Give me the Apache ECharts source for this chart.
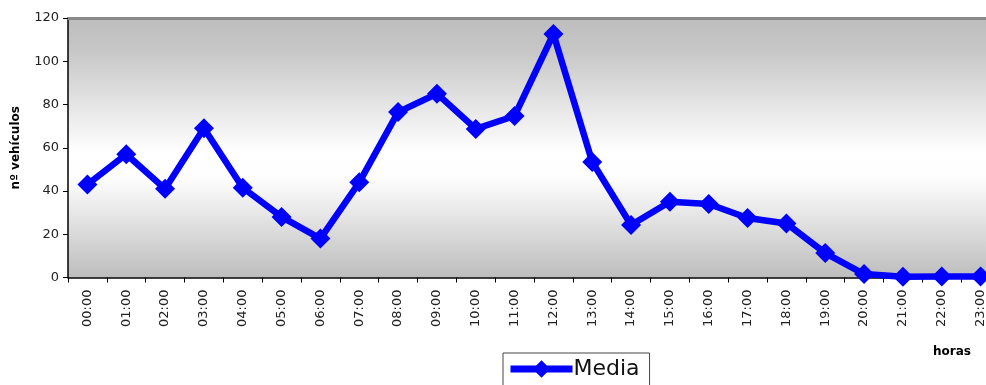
<!DOCTYPE html>
<html>
<head>
<meta charset="utf-8">
<script src="https://cdn.jsdelivr.net/npm/echarts@6/dist/echarts.min.js"></script>
<style>
  html, body { margin: 0; padding: 0; background: #ffffff; }
  #chart { width: 986px; height: 385px; }
</style>
</head>
<body>
<div id="chart"></div>
<script>
// Hourly average vehicle counts
const horas = ['00:00','01:00','02:00','03:00','04:00','05:00','06:00','07:00',
  '08:00','09:00','10:00','11:00','12:00','13:00','14:00','15:00',
  '16:00','17:00','18:00','19:00','20:00','21:00','22:00','23:00'];
const media = [43, 57, 41, 69, 41.5, 28, 18, 44,
  76.5, 85, 68.7, 74.7, 112.6, 53.4, 24.3, 35,
  34, 27.5, 25, 11.3, 1.6, 0.3, 0.5, 0.5];
const yTicks = { min: 0, max: 120, step: 20 };

const font = 'DejaVu Sans';
const chart = echarts.init(document.getElementById('chart'), null, { renderer: 'canvas' });

chart.setOption({
  animation: false,
  backgroundColor: '#ffffff',
  title: {
    text: 'horas',
    left: 933, top: 346,
    padding: 0,
    textStyle: { fontFamily: font, fontSize: 12, fontWeight: 'bold', color: '#000' }
  },
  grid: {
    left: 68, top: 18, right: -14, height: 259.5,
    outerBoundsMode: 'none',
    containLabel: false,
    show: true,
    borderWidth: 0,
    backgroundColor: {
      type: 'linear', x: 0, y: 0, x2: 0, y2: 1,
      colorStops: [
        { offset: 0, color: '#bdbdbd' },
        { offset: 0.12, color: '#c6c6c6' },
        { offset: 0.52, color: '#ffffff' },
        { offset: 0.62, color: '#fdfdfd' },
        { offset: 1, color: '#bdbdbd' }
      ]
    }
  },
  legend: {
    left: 503, top: 353,
    data: ['Media'],
    itemWidth: 62, itemHeight: 22,
    itemGap: 0,
    padding: [5, 10, 12, 4],
    borderColor: '#444', borderWidth: 1,
    lineStyle: { width: 7 },
    textStyle: { fontFamily: font, fontSize: 22, color: '#111', padding: [0, 0, 0, -4] }
  },
  xAxis: [{
    type: 'category',
    data: horas,
    boundaryGap: true,
    axisLine: { show: true, lineStyle: { color: '#000', width: 1.5 } },
    axisTick: { show: true, length: 5, lineStyle: { color: '#000' } },
    axisLabel: { rotate: 90, margin: 12, fontFamily: font, fontSize: 13, color: '#222' },
    splitLine: { show: false }
  }, {
    type: 'category',
    data: horas,
    position: 'top',
    axisLine: { show: true, lineStyle: { color: '#8a8a8a', width: 3 } },
    axisTick: { show: false },
    axisLabel: { show: false }
  }],
  yAxis: {
    type: 'value',
    min: yTicks.min, max: yTicks.max, interval: yTicks.step,
    axisLine: { show: true, lineStyle: { color: '#000', width: 1.5 } },
    axisTick: { show: true, length: 5, lineStyle: { color: '#000' } },
    axisLabel: { margin: 9, fontFamily: font, fontSize: 13, color: '#222' },
    splitLine: { show: false },
    name: 'nº vehículos',
    nameLocation: 'middle',
    nameGap: 46,
    nameRotate: 90,
    nameTextStyle: { fontFamily: font, fontSize: 12, fontWeight: 'bold', color: '#000' }
  },
  series: [{
    name: 'Media',
    type: 'line',
    data: media,
    symbol: 'diamond',
    symbolSize: 20,
    itemStyle: { color: '#0000ff' },
    lineStyle: { color: '#0000ff', width: 6.5 },
    clip: false
  }]
});
</script>
</body>
</html>
